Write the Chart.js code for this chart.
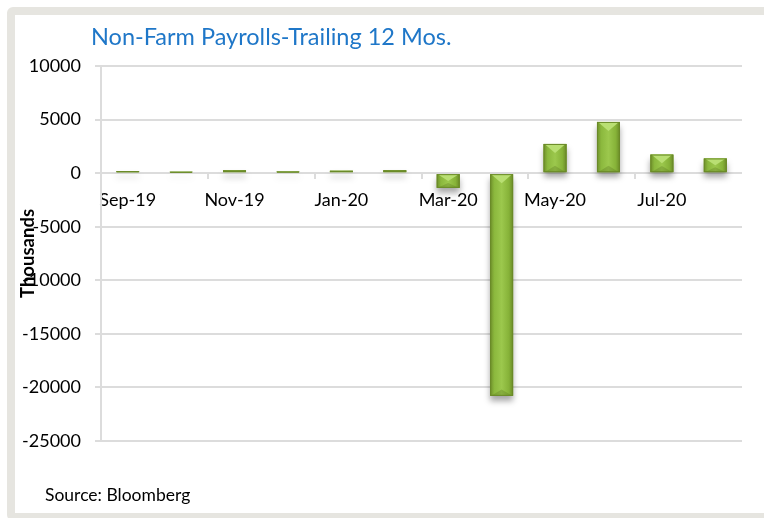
<!DOCTYPE html>
<html>
<head>
<meta charset="utf-8">
<script src="https://cdn.jsdelivr.net/npm/chart.js@4.4.0/dist/chart.umd.min.js"></script>
<style>
  html, body { margin: 0; padding: 0; background: #fff; overflow: hidden; }
  #frame {
    position: absolute; left: 7px; top: 7px; width: 800px; height: 498px;
    border: 8px solid #e6e5e0; border-radius: 6px; background: #fff;
  }
  #wrap { position: absolute; left: 0; top: 0; width: 764px; height: 518px; }
  #title {
    position: absolute; left: 91px; top: 22px; font: 23.5px Lato, sans-serif; color: #1f77c8;
    white-space: nowrap;
  }
  #source {
    position: absolute; left: 45px; top: 484px; font: 17.5px Lato, sans-serif; color: #000;
    white-space: nowrap;
  }
</style>
</head>
<body>
<div id="frame"></div>
<div id="wrap"><canvas id="bar" width="764" height="518"></canvas></div>
<div id="title">Non-Farm Payrolls-Trailing 12 Mos.</div>
<div id="source">Source: Bloomberg</div>
<script>
const months = ['Sep-19', 'Oct-19', 'Nov-19', 'Dec-19', 'Jan-20', 'Feb-20',
  'Mar-20', 'Apr-20', 'May-20', 'Jun-20', 'Jul-20', 'Aug-20'];
const payrolls = [180, 128, 266, 145, 225, 273, -1373, -20787, 2725, 4781, 1734, 1371];
const y_min = -25000;
const y_max = 10000;
const y_step = 5000;

const gridColor = '#dcdcdc';
const ctx = document.getElementById('bar').getContext('2d');

// drop shadow under the bars
const barShadow = {
  id: 'barShadow',
  beforeDatasetDraw(chart) {
    const c = chart.ctx;
    c.save();
    c.shadowColor = 'rgba(0,0,0,0.35)';
    c.shadowBlur = 6;
    c.shadowOffsetY = 5;
  },
  afterDatasetDraw(chart) {
    chart.ctx.restore();
  }
};

// excel-ish bevel on top of each bar
const barBevel = {
  id: 'barBevel',
  afterDatasetsDraw(chart) {
    const c = chart.ctx;
    chart.getDatasetMeta(0).data.forEach(el => {
      const w = el.width;
      const left = el.x - w / 2, right = el.x + w / 2;
      const top = Math.min(el.y, el.base), bottom = Math.max(el.y, el.base);
      const h = bottom - top;
      c.save();
      const g = c.createLinearGradient(left, 0, right, 0);
      g.addColorStop(0, '#6e8e2a');
      g.addColorStop(0.18, '#8bb83d');
      g.addColorStop(0.5, '#9cc84d');
      g.addColorStop(0.82, '#86b238');
      g.addColorStop(1, '#6a8927');
      c.fillStyle = g;
      c.fillRect(left, top, w, h);
      const b = Math.min(9, h / 2);
      if (b > 1) {
        c.fillStyle = '#b9df73';
        c.beginPath();
        c.moveTo(left + 1, top);
        c.lineTo(right - 1, top);
        c.lineTo(el.x, top + b);
        c.closePath();
        c.fill();
        c.fillStyle = 'rgba(70,95,20,0.25)';
        c.beginPath();
        c.moveTo(left + 1, bottom);
        c.lineTo(right - 1, bottom);
        c.lineTo(el.x, bottom - b * 0.7);
        c.closePath();
        c.fill();
      }
      c.strokeStyle = '#6a8a28';
      c.lineWidth = 1;
      c.strokeRect(left + 0.5, top + 0.5, w - 1, Math.max(h - 1, 0));
      c.restore();
    });
  }
};

new Chart(ctx, {
  type: 'bar',
  data: {
    labels: months,
    datasets: [{
      data: payrolls,
      backgroundColor: '#8db83f',
      borderWidth: 0,
      barPercentage: 0.43,
      categoryPercentage: 1
    }]
  },
  plugins: [barShadow, barBevel],
  options: {
    responsive: false,
    animation: false,
    layout: { padding: { top: 66, right: 22, bottom: 77, left: 0 } },
    plugins: {
      legend: { display: false },
      title: { display: false },
      tooltip: { enabled: false }
    },
    scales: {
      x: {
        position: { y: 0 },
        grid: {
          drawOnChartArea: false,
          color: gridColor,
          tickColor: c => (c.index % 2 === 0 ? gridColor : 'rgba(0,0,0,0)'),
          lineWidth: 2,
          tickLength: 6,
          offset: true
        },
        border: { display: false },
        ticks: {
          autoSkip: false,
          maxRotation: 0,
          padding: 10,
          color: '#000',
          font: { family: 'Lato', size: 18 },
          callback: function (val, i) { return i % 2 === 0 ? this.getLabelForValue(val) : ''; }
        }
      },
      y: {
        min: y_min,
        max: y_max,
        ticks: {
          stepSize: y_step,
          padding: 14,
          color: '#000',
          font: { family: 'Lato', size: 18 },
          callback: v => String(v)
        },
        grid: { color: gridColor, lineWidth: 2, tickLength: 6 },
        border: { color: gridColor, width: 2 },
        title: {
          display: true,
          text: 'Thousands',
          color: '#000',
          font: { family: 'Lato', size: 18.5, weight: 'bold' },
          padding: { top: 17, bottom: 0 }
        },
        afterFit(scale) { scale.width = 101; }
      }
    }
  }
});
</script>
</body>
</html>
